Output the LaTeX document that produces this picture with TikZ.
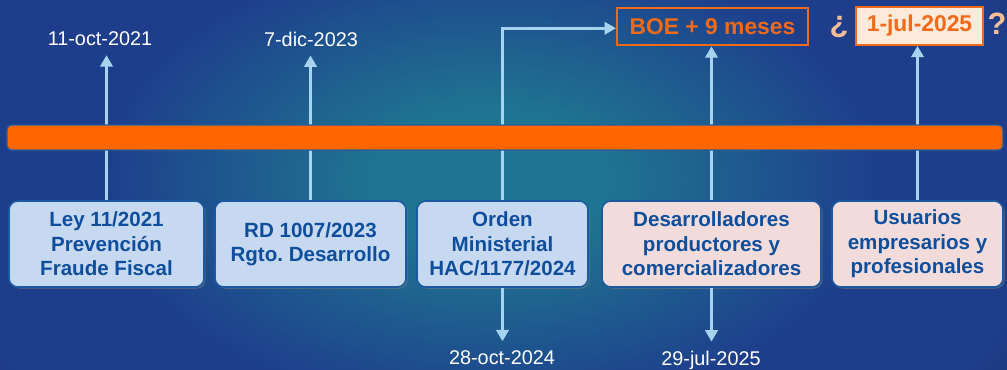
\documentclass[tikz,border=0pt]{standalone}
\usepackage{fontspec}
\setmainfont{Liberation Sans}
\usetikzlibrary{arrows.meta,shadows}
\frenchspacing

\definecolor{bgdark}{RGB}{22,30,60}
\definecolor{bgblue}{RGB}{30,62,140}
\definecolor{bgteal}{RGB}{31,117,145}
\definecolor{barorange}{RGB}{255,102,0}
\definecolor{barline}{RGB}{31,95,160}
\definecolor{arrowblue}{RGB}{166,211,238}
\definecolor{boxblue}{RGB}{198,217,241}
\definecolor{boxpink}{RGB}{242,220,219}
\definecolor{boxline}{RGB}{28,90,160}
\definecolor{boxtext}{RGB}{14,78,156}
\definecolor{dateorange}{RGB}{240,106,24}
\definecolor{datefill}{RGB}{253,234,218}
\definecolor{peach}{RGB}{245,190,150}

\pgfdeclareradialshading{bgglow}{\pgfpoint{0bp}{0bp}}{color(0bp)=(bgteal); color(4bp)=(bgteal); color(14bp)=(bgblue); color(20bp)=(bgblue); color(33bp)=(bgdark); color(50bp)=(bgdark)}

\begin{document}
\begin{tikzpicture}[x=0.02cm,y=-0.02cm]
	\useasboundingbox (0,0) rectangle (1007,369);
	\begin{scope}
		\clip (0,0) rectangle (1007,369);
		\shade[shading=bgglow] (490,180) ellipse (700 and 420);
	\end{scope}

	% boxes
	\begin{scope}[every node/.style={rounded corners=5pt,draw=boxline,line width=0.9pt,
				  text=boxtext,font=\fontsize{11.7}{13.9}\selectfont\bfseries,align=center,
				  minimum height=1.72cm,
				  drop shadow={shadow xshift=1pt,shadow yshift=-1pt,opacity=0.45}}]
		\node[fill=boxblue,minimum width=3.9cm] (ley) at (106.5,244) {Ley 11/2021\\Prevención\\Fraude Fiscal};
		\node[fill=boxblue,minimum width=3.82cm] (rd) at (310.5,244) {RD 1007/2023\\Rgto. Desarrollo};
		\node[fill=boxblue,minimum width=3.42cm] (orden) at (502.5,244) {Orden\\Ministerial\\HAC/1177/2024};
		\node[fill=boxpink,minimum width=4.38cm] (desarr) at (711.5,244) {Desarrolladores\\productores y\\comercializadores};
		\node[fill=boxpink,minimum width=3.42cm] (usuar) at (917.5,244) {Usuarios\\empresarios y\\profesionales};
	\end{scope}

	% dates
	\begin{scope}[every node/.style={text=white,inner sep=5pt,font=\fontsize{11.3}{13.5}\selectfont}]
		\node (d1) at (100,39) {11-oct-2021};
		\node (d2) at (311,39) {7-dic-2023};
		\node (d3) at (502,357.5) {28-oct-2024};
		\node (d4) at (711,360) {29-jul-2025};
	\end{scope}

	\begin{scope}[every node/.style={draw=dateorange,line width=1.2pt,text=dateorange,
				  font=\fontsize{13}{15}\selectfont\bfseries,minimum height=0.75cm}]
		\node[minimum width=3.82cm] (boe) at (712.5,26.5) {BOE + 9 meses};
		\node[fill=datefill,minimum width=2.54cm] (jul) at (919.5,26) {1-jul-2025};
	\end{scope}
	\begin{scope}[every node/.style={text=peach,font=\fontsize{17.5}{20}\selectfont\bfseries}]
		\node (qopen) at (839,27) {¿};
		\node (qclose) at (997,24) {?};
	\end{scope}

	% arrows
	\begin{scope}[>={Triangle[length=6.5pt,width=7pt]},
				  draw=arrowblue,line width=1.7pt,
				  every edge/.style={draw=arrowblue,line width=1.7pt}]
		\path [->] (ley) edge (ley |- d1.south);
		\path [->] (rd) edge (rd |- d2.south);
		\path [->] (orden) edge (orden |- d3.north);
		\draw [->] (orden) |- ([yshift=-1pt]boe.west);
		\path [->] (desarr) edge (desarr |- boe.south);
		\path [->] (desarr) edge (desarr |- d4.north);
		\path [->] (usuar) edge (usuar |- jul.south);
	\end{scope}

	% time line
	\node[draw=barline,fill=barorange,line width=0.7pt,rounded corners=2.5pt,
		  minimum width=19.92cm,minimum height=0.5cm,inner sep=0pt] (bar) at (505,137.5) {};
\end{tikzpicture}
\end{document}
